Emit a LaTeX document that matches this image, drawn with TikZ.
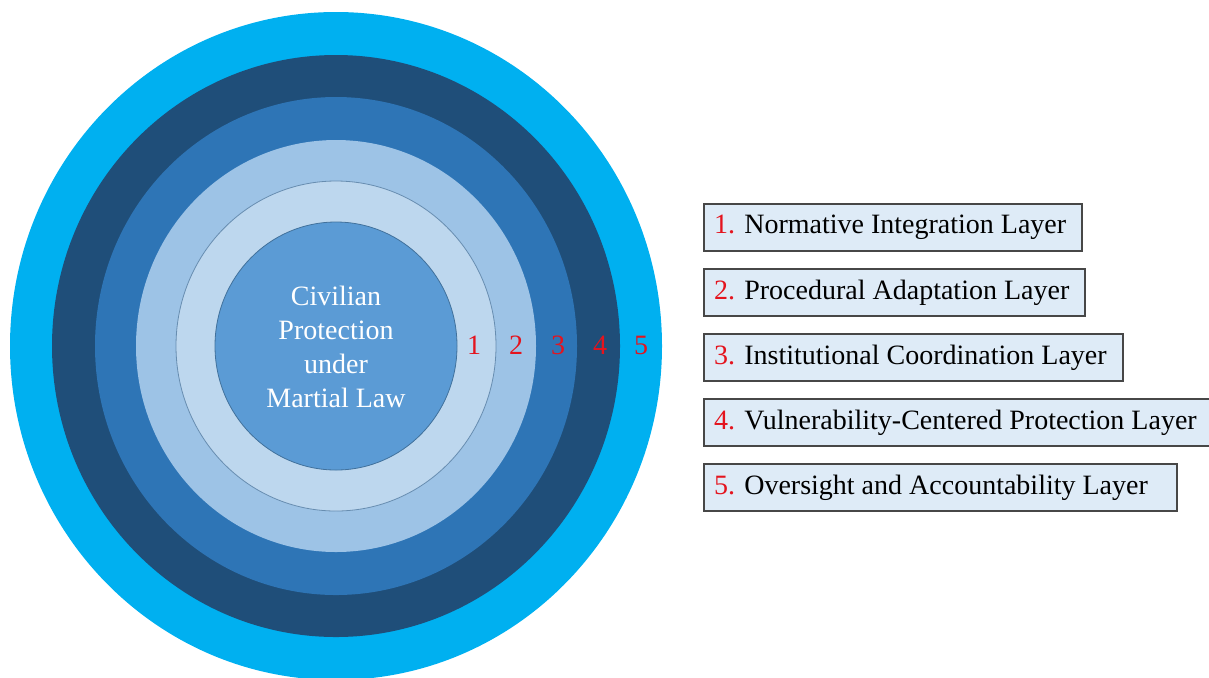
\documentclass[tikz,border=0pt]{standalone}
\usepackage{fontspec}
\setmainfont{Liberation Serif}
\usetikzlibrary{positioning}
\definecolor{ringsky}{RGB}{0,176,240}
\definecolor{ringnavy}{RGB}{31,78,121}
\definecolor{ringmid}{RGB}{46,117,182}
\definecolor{ringpale}{RGB}{157,195,230}
\definecolor{ringmist}{RGB}{189,215,238}
\definecolor{corefill}{RGB}{91,155,213}
\definecolor{coreedge}{RGB}{65,113,156}
\definecolor{boxfill}{RGB}{222,235,247}
\definecolor{numred}{RGB}{228,20,30}

\begin{document}
\begin{tikzpicture}[x=0.5pt,y=-0.5pt,
   font=\fontsize{14pt}{17pt}\selectfont,
   layerbox/.style={draw=black!72,line width=1pt,fill=boxfill,
     minimum height=23.5pt,inner xsep=5pt,inner ysep=0pt},
   ringnum/.style={text=numred,inner sep=0pt}]
  \useasboundingbox (0,0) rectangle (1209,677);
  % rings, outermost first
  \fill[ringsky] (336,346) ellipse [x radius=326,y radius=334];
  \fill[ringnavy] (336,346) ellipse [x radius=284,y radius=291];
  \fill[ringmid] (336,346) ellipse [x radius=241,y radius=249];
  \fill[ringpale] (336,346) ellipse [x radius=200,y radius=206];
  \filldraw[fill=ringmist,draw=coreedge!80,line width=0.4pt]
    (336,346) ellipse [x radius=160,y radius=165];
  \filldraw[fill=corefill,draw=coreedge,line width=0.4pt]
    (336,346) ellipse [x radius=121,y radius=124];
  \node[text=white,align=center] (core) at (336,347)
    {Civilian\\Protection\\under\\Martial Law};
  \foreach \n/\x in {1/474,2/516,3/558,4/600,5/641}
    \node[ringnum] (num\n) at (\x,345) {\n};
  % legend boxes
  \node[layerbox,anchor=north west] (layer1) at (703,203)
    {\textcolor{numred}{1.} Normative Integration Layer\kern3pt};
  \node[layerbox,below=8pt of layer1.south west,anchor=north west] (layer2)
    {\textcolor{numred}{2.} Procedural Adaptation Layer\kern3pt};
  \node[layerbox,below=8pt of layer2.south west,anchor=north west] (layer3)
    {\textcolor{numred}{3.} Institutional Coordination Layer\kern3pt};
  \node[layerbox,below=8pt of layer3.south west,anchor=north west] (layer4)
    {\textcolor{numred}{4.} Vulnerability-Centered Protection Layer\kern3pt};
  \node[layerbox,below=8pt of layer4.south west,anchor=north west] (layer5)
    {\textcolor{numred}{5.} Oversight and Accountability Layer\kern9.5pt};
\end{tikzpicture}
\end{document}
